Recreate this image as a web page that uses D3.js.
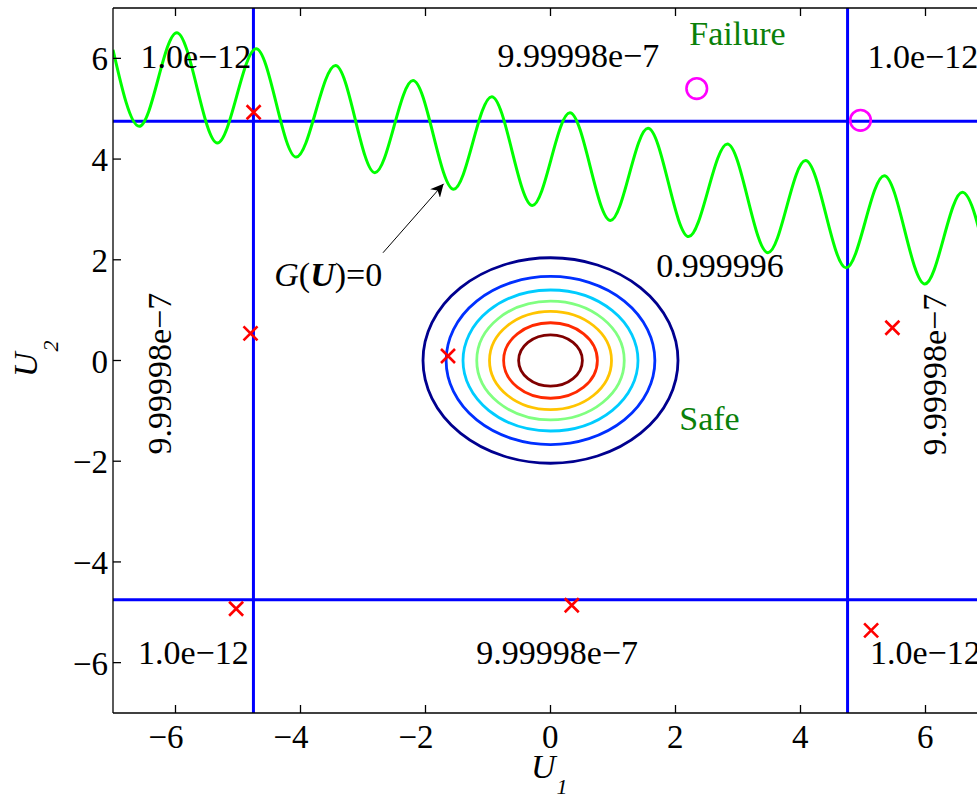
<!DOCTYPE html>
<html>
<head>
<meta charset="utf-8">
<script src="https://cdn.jsdelivr.net/npm/d3@7"></script>
<style>
  body { margin: 0; background: #fff; }
</style>
</head>
<body>
<div class="grafico"></div>
<script>
/*Ticks*/
const xTicks = [-6, -4, -2, 0, 2, 4, 6]
const yTicks = [-6, -4, -2, 0, 2, 4, 6]

/*Estado limite G(U)=0: maximos y minimos*/
const limitU1 = [-7.00, -6.58, -5.98, -5.33, -4.71, -4.07, -3.44, -2.81, -2.20, -1.55, -0.94, -0.29, 0.31, 0.96, 1.56, 2.21, 2.83, 3.48, 4.08, 4.73, 5.34, 5.99, 6.59, 7.00]
const limitU2 = [6.17, 4.65, 6.51, 4.32, 6.19, 4.04, 5.86, 3.73, 5.56, 3.40, 5.24, 3.08, 4.92, 2.78, 4.61, 2.46, 4.30, 2.14, 3.97, 1.84, 3.67, 1.52, 3.34, 1.85]

/*Muestras (cruces rojas)*/
const sampleU1 = [-4.75, -4.80, -1.64, -5.03, 0.34, 5.13, 5.47]
const sampleU2 = [4.93, 0.54, 0.09, -4.93, -4.86, -5.36, 0.65]

/*Puntos de falla (circulos magenta)*/
const failU1 = [2.34, 4.96]
const failU2 = [5.40, 4.77]

/*Contornos de la normal estandar*/
const contourRadii = [2.04, 1.67, 1.40, 1.18, 0.976, 0.75, 0.51]
const contourColors = ['#00008f', '#0030ff', '#00ccff', '#80ff80', '#ffc400', '#ff2a00', '#800000']

/*Limites de las regiones*/
const boundary = 4.753
const cornerProb = '1.0e\u221212'
const edgeProb = '9.99998e\u22127'
const centerProb = '0.999996'

const W = 977
const H = 795
const FONT = "'Liberation Serif', 'Times New Roman', Times, 'DejaVu Serif', serif"
const x = d3.scaleLinear().domain([-7, 7]).range([113, 988])
const y = d3.scaleLinear().domain([-7, 7]).range([713, 8])

const svg = d3.select('.grafico')
  .append('svg')
  .attr('width', W)
  .attr('height', H)
  .attr('font-family', FONT)
  .style('display', 'block')

svg.append('defs').append('clipPath')
  .attr('id', 'clip')
  .append('rect')
  .attr('x', x(-7)).attr('y', y(7))
  .attr('width', x(7) - x(-7)).attr('height', y(-7) - y(7))

svg.select('defs').append('marker')
  .attr('id', 'arrow')
  .attr('viewBox', '0 0 10 10')
  .attr('refX', 10).attr('refY', 5)
  .attr('markerWidth', 13).attr('markerHeight', 13)
  .attr('markerUnits', 'userSpaceOnUse')
  .attr('orient', 'auto')
  .append('path')
  .attr('d', 'M0,0 L10,5 L0,10 L3,5 Z')
  .attr('fill', '#000')

const plot = svg.append('g').attr('clip-path', 'url(#clip)')

/*Contornos*/
plot.selectAll('ellipse')
  .data(contourRadii)
  .join('ellipse')
  .attr('cx', x(0))
  .attr('cy', y(0))
  .attr('rx', r => x(r) - x(0))
  .attr('ry', r => y(0) - y(r))
  .attr('fill', 'none')
  .attr('stroke', (r, i) => contourColors[i])
  .attr('stroke-width', 2.8)

/*Lineas azules de las regiones*/
const lines = [
  [-boundary, -7, -boundary, 7], [boundary, -7, boundary, 7],
  [-7, -boundary, 7, -boundary], [-7, boundary, 7, boundary]
]
plot.selectAll('line.region')
  .data(lines)
  .join('line')
  .attr('class', 'region')
  .attr('x1', d => x(d[0])).attr('y1', d => y(d[1]))
  .attr('x2', d => x(d[2])).attr('y2', d => y(d[3]))
  .attr('stroke', '#0000ff')
  .attr('stroke-width', 3)

/*Curva G(U)=0*/
const limitLine = d3.line()
  .x(i => x(limitU1[i]))
  .y(i => y(limitU2[i]))
  .curve(d3.curveMonotoneX)

plot.append('path')
  .attr('d', limitLine(d3.range(limitU1.length)))
  .attr('fill', 'none')
  .attr('stroke', '#00ff00')
  .attr('stroke-width', 3)

/*Cruces*/
const cross = 7
plot.selectAll('path.sample')
  .data(d3.range(sampleU1.length))
  .join('path')
  .attr('class', 'sample')
  .attr('d', i => {
    const cx = x(sampleU1[i]), cy = y(sampleU2[i])
    return `M${cx - cross},${cy - cross}L${cx + cross},${cy + cross}M${cx - cross},${cy + cross}L${cx + cross},${cy - cross}`
  })
  .attr('stroke', '#ff0000')
  .attr('stroke-width', 2.6)

/*Circulos*/
plot.selectAll('circle')
  .data(d3.range(failU1.length))
  .join('circle')
  .attr('cx', i => x(failU1[i]))
  .attr('cy', i => y(failU2[i]))
  .attr('r', 10.3)
  .attr('fill', 'none')
  .attr('stroke', '#ff00ff')
  .attr('stroke-width', 2.6)

/*Ejes*/
const axis = svg.append('g').attr('stroke', '#000').attr('stroke-width', 1.3)
axis.append('line').attr('x1', x(-7)).attr('x2', x(-7)).attr('y1', y(7)).attr('y2', y(-7))
axis.append('line').attr('x1', x(-7)).attr('x2', x(7)).attr('y1', y(-7)).attr('y2', y(-7))
axis.append('line').attr('x1', x(-7)).attr('x2', x(7)).attr('y1', y(7)).attr('y2', y(7))
axis.append('line').attr('x1', x(7)).attr('x2', x(7)).attr('y1', y(7)).attr('y2', y(-7))

const tickLen = 8
xTicks.forEach(t => {
  axis.append('line').attr('x1', x(t)).attr('x2', x(t)).attr('y1', y(-7)).attr('y2', y(-7) - tickLen)
  axis.append('line').attr('x1', x(t)).attr('x2', x(t)).attr('y1', y(7)).attr('y2', y(7) + tickLen)
})
yTicks.forEach(t => {
  axis.append('line').attr('x1', x(-7)).attr('x2', x(-7) + tickLen).attr('y1', y(t)).attr('y2', y(t))
  axis.append('line').attr('x1', x(7)).attr('x2', x(7) - tickLen).attr('y1', y(t)).attr('y2', y(t))
})

const fmt = t => (t < 0 ? '\u2212' : '') + Math.abs(t)

svg.append('g').selectAll('text')
  .data(xTicks)
  .join('text')
  .attr('x', t => x(t) + 8)
  .attr('y', 748)
  .attr('text-anchor', 'end')
  .attr('font-size', 33)
  .text(fmt)

svg.append('g').selectAll('text')
  .data(yTicks)
  .join('text')
  .attr('x', x(-7) - 5)
  .attr('y', t => y(t) + 12)
  .attr('text-anchor', 'end')
  .attr('font-size', 33)
  .text(fmt)

/*Etiquetas de ejes*/
const u1 = svg.append('text')
  .attr('x', 531)
  .attr('y', 778)
  .attr('font-size', 34)
  .attr('font-style', 'italic')
u1.append('tspan').text('U')
u1.append('tspan').attr('font-size', 22).attr('dy', 16).attr('dx', 1).text('1')

const u2 = svg.append('text')
  .attr('transform', 'translate(37,377) rotate(-90)')
  .attr('font-size', 34)
  .attr('font-style', 'italic')
u2.append('tspan').text('U')
u2.append('tspan').attr('font-size', 22).attr('dy', 21).attr('dx', 1).text('2')

/*Probabilidades de cada region*/
const labels = svg.append('g').attr('font-size', 34)
const probText = (u, v, txt) => labels.append('text').attr('x', x(u)).attr('y', y(v)).text(txt)
probText(-6.56, 5.81, cornerProb)
probText(-0.85, 5.83, edgeProb)
probText(5.07, 5.81, cornerProb)
probText(-6.60, -6.03, cornerProb)
probText(-1.19, -6.03, edgeProb)
probText(5.11, -6.03, cornerProb)
probText(1.69, 1.66, centerProb)

labels.append('text')
  .attr('transform', `translate(${x(-6.07)},${y(-0.26)}) rotate(-90)`)
  .attr('text-anchor', 'middle')
  .text(edgeProb)
labels.append('text')
  .attr('transform', `translate(${x(6.33)},${y(-0.28)}) rotate(-90)`)
  .attr('text-anchor', 'middle')
  .text(edgeProb)

/*Failure / Safe*/
labels.append('text').attr('x', x(2.22)).attr('y', y(6.27)).attr('fill', '#0a800a').text('Failure')
labels.append('text').attr('x', x(2.06)).attr('y', y(-1.38)).attr('fill', '#0a800a').text('Safe')

/*G(U)=0 con flecha*/
const g = labels.append('text').attr('x', x(-4.42)).attr('y', y(1.48))
g.append('tspan').attr('font-style', 'italic').text('G')
g.append('tspan').text('(')
g.append('tspan').attr('font-style', 'italic').attr('font-weight', 'bold').text('U')
g.append('tspan').text(')=0')

svg.append('line')
  .attr('x1', x(-2.68)).attr('y1', y(2.14))
  .attr('x2', x(-1.71)).attr('y2', y(3.51))
  .attr('stroke', '#000')
  .attr('stroke-width', 1)
  .attr('marker-end', 'url(#arrow)')
</script>
</body>
</html>
